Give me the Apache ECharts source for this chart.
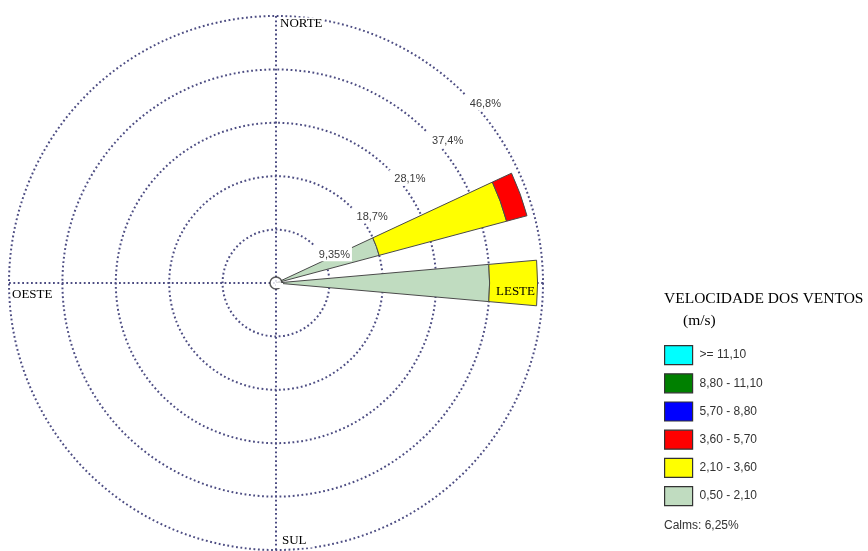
<!DOCTYPE html>
<html>
<head>
<meta charset="utf-8">
<script src="https://cdn.jsdelivr.net/npm/echarts@6/dist/echarts.min.js"></script>
<style>
  html, body { margin: 0; padding: 0; background: #ffffff; }
  #chart { width: 868px; height: 551px; }
</style>
</head>
<body>
<div id="chart"></div>
<script>
// Compass bearings of the 36 ten-degree sectors
const directions = ['0°','10°','20°','30°','40°','50°','60°','70°','80°','90°','100°','110°',
                    '120°','130°','140°','150°','160°','170°','180°','190°','200°','210°','220°','230°',
                    '240°','250°','260°','270°','280°','290°','300°','310°','320°','330°','340°','350°'];

// Frequency (%) of each speed class per direction
const speed0050to0210 = [0,0,0,0,0,0,0,18.7,0,37.4,0,0, 0,0,0,0,0,0,0,0,0,0,0,0, 0,0,0,0,0,0,0,0,0,0,0,0];
const speed0210to0360 = [0,0,0,0,0,0,0,23.1,0,8.4,0,0,  0,0,0,0,0,0,0,0,0,0,0,0, 0,0,0,0,0,0,0,0,0,0,0,0];
const speed0360to0570 = [0,0,0,0,0,0,0,3.7,0,0,0,0,     0,0,0,0,0,0,0,0,0,0,0,0, 0,0,0,0,0,0,0,0,0,0,0,0];
const speed0570to0880 = [0,0,0,0,0,0,0,0,0,0,0,0,       0,0,0,0,0,0,0,0,0,0,0,0, 0,0,0,0,0,0,0,0,0,0,0,0];
const speed0880to1110 = [0,0,0,0,0,0,0,0,0,0,0,0,       0,0,0,0,0,0,0,0,0,0,0,0, 0,0,0,0,0,0,0,0,0,0,0,0];
const speedAbove1110  = [0,0,0,0,0,0,0,0,0,0,0,0,       0,0,0,0,0,0,0,0,0,0,0,0, 0,0,0,0,0,0,0,0,0,0,0,0];

// Speed classes (m/s), innermost first
const speedClasses = ['0,50 - 2,10', '2,10 - 3,60', '3,60 - 5,70', '5,70 - 8,80', '8,80 - 11,10', '>= 11,10'];
const classColors  = ['#c0dcc0', '#ffff00', '#ff0000', '#0000ff', '#008000', '#00ffff'];
const classValues  = [speed0050to0210, speed0210to0360, speed0360to0570, speed0570to0880, speed0880to1110, speedAbove1110];

// Frequency rings and their labels
const ringStep   = 9.35;
const ringMax    = 46.75;
const ringValues = [9.35, 18.7, 28.05, 37.4, 46.75];
const ringLabels = ['9,35%', '18,7%', '28,1%', '37,4%', '46,8%'];

const calmsPercent = '6,25%';
const cardinal = { north: 'NORTE', east: 'LESTE', south: 'SUL', west: 'OESTE' };

const CENTER = [276, 283];
const RADIUS = 267;
const gridLine = { color: '#4c4c82', width: 2, type: [1.8, 2.6] };
const serif = '"Liberation Serif", "Times New Roman", serif';
const sans = '"Liberation Sans", Arial, sans-serif';

const hiddenAxis = {
  axisLine: { show: false }, axisTick: { show: false },
  axisLabel: { show: false }, splitLine: { show: false }, splitArea: { show: false }
};

const series = speedClasses.map((name, i) => ({
  name: name,
  type: 'bar',
  coordinateSystem: 'polar',
  polarIndex: 2,
  stack: 'vento',
  barCategoryGap: '0%',
  data: classValues[i].map(v => (v > 0 ? v : '-')),
  itemStyle: { color: classColors[i], borderColor: '#4a4a4a', borderWidth: 1 },
  emphasis: { disabled: true },
  z: 3
}));

// calm marker in the centre
series.push({
  type: 'scatter',
  coordinateSystem: 'polar',
  polarIndex: 2,
  symbol: 'circle',
  symbolSize: 12,
  data: [[0, directions[0]]],
  itemStyle: { color: '#ffffff', borderColor: '#333333', borderWidth: 1.5 },
  z: 6,
  silent: true
});

const chart = echarts.init(document.getElementById('chart'), null, { renderer: 'canvas' });
chart.setOption({
  animation: false,
  backgroundColor: '#ffffff',
  polar: [
    { center: CENTER, radius: RADIUS },
    { center: CENTER, radius: RADIUS },
    { center: CENTER, radius: RADIUS }
  ],
  angleAxis: [
    Object.assign({}, hiddenAxis, {
      polarIndex: 0, type: 'value', min: 0, max: 360, interval: 90, startAngle: 90,
      splitLine: { show: true, lineStyle: gridLine }
    }),
    Object.assign({}, hiddenAxis, {
      polarIndex: 1, type: 'value', min: 0, max: 360, startAngle: 45
    }),
    Object.assign({}, hiddenAxis, {
      polarIndex: 2, type: 'category', data: directions, startAngle: 95, boundaryGap: true
    })
  ],
  radiusAxis: [
    Object.assign({}, hiddenAxis, {
      polarIndex: 0, type: 'value', min: 0, max: ringMax, interval: ringStep,
      splitLine: { show: true, lineStyle: gridLine }
    }),
    Object.assign({}, hiddenAxis, {
      polarIndex: 1, type: 'value', min: 0, max: ringMax, interval: ringStep, z: 10,
      axisLabel: {
        show: true,
        margin: 0,
        align: 'left',
        verticalAlign: 'top',
        fontFamily: sans,
        fontSize: 11,
        color: '#3a3a3a',
        backgroundColor: '#ffffff',
        padding: [4, 2, 1, 5],
        formatter: function (v) {
          for (let i = 0; i < ringValues.length; i++) {
            if (Math.abs(v - ringValues[i]) < 0.01) return ringLabels[i];
          }
          return '';
        }
      }
    }),
    Object.assign({}, hiddenAxis, {
      polarIndex: 2, type: 'value', min: 0, max: ringMax
    })
  ],
  legend: {
    data: speedClasses.slice().reverse(),
    orient: 'vertical',
    left: 664,
    top: 345,
    padding: 0,
    icon: 'rect',
    itemWidth: 28,
    itemHeight: 19,
    itemGap: 8,
    selectedMode: false,
    itemStyle: { borderColor: '#333333', borderWidth: 1.2 },
    textStyle: { fontFamily: sans, fontSize: 12, color: '#333333', padding: [0, 0, 0, 2] }
  },
  graphic: [
    { type: 'text', x: 279, y: 24, z: 20, style: { text: cardinal.north, font: '13px ' + serif, fill: '#000', align: 'left', verticalAlign: 'middle', backgroundColor: '#fff', padding: [0, 1] } },
    { type: 'text', x: 535, y: 292, z: 20, style: { text: cardinal.east, font: '13px ' + serif, fill: '#000', align: 'right', verticalAlign: 'middle' } },
    { type: 'text', x: 281, y: 541, z: 20, style: { text: cardinal.south, font: '13px ' + serif, fill: '#000', align: 'left', verticalAlign: 'middle', backgroundColor: '#fff', padding: [0, 6, 0, 1] } },
    { type: 'text', x: 11, y: 295, z: 20, style: { text: cardinal.west, font: '13px ' + serif, fill: '#000', align: 'left', verticalAlign: 'middle', backgroundColor: '#fff', padding: [0, 1] } },
    { type: 'text', x: 664, y: 299, z: 20, style: { text: 'VELOCIDADE DOS VENTOS', font: '15.5px ' + serif, fill: '#000', align: 'left', verticalAlign: 'middle' } },
    { type: 'text', x: 683, y: 321, z: 20, style: { text: '(m/s)', font: '15.5px ' + serif, fill: '#000', align: 'left', verticalAlign: 'middle' } },
    { type: 'text', x: 664, y: 526, z: 20, style: { text: 'Calms: ' + calmsPercent, font: '12px ' + sans, fill: '#333', align: 'left', verticalAlign: 'middle' } }
  ],
  series: series
});
</script>
</body>
</html>
